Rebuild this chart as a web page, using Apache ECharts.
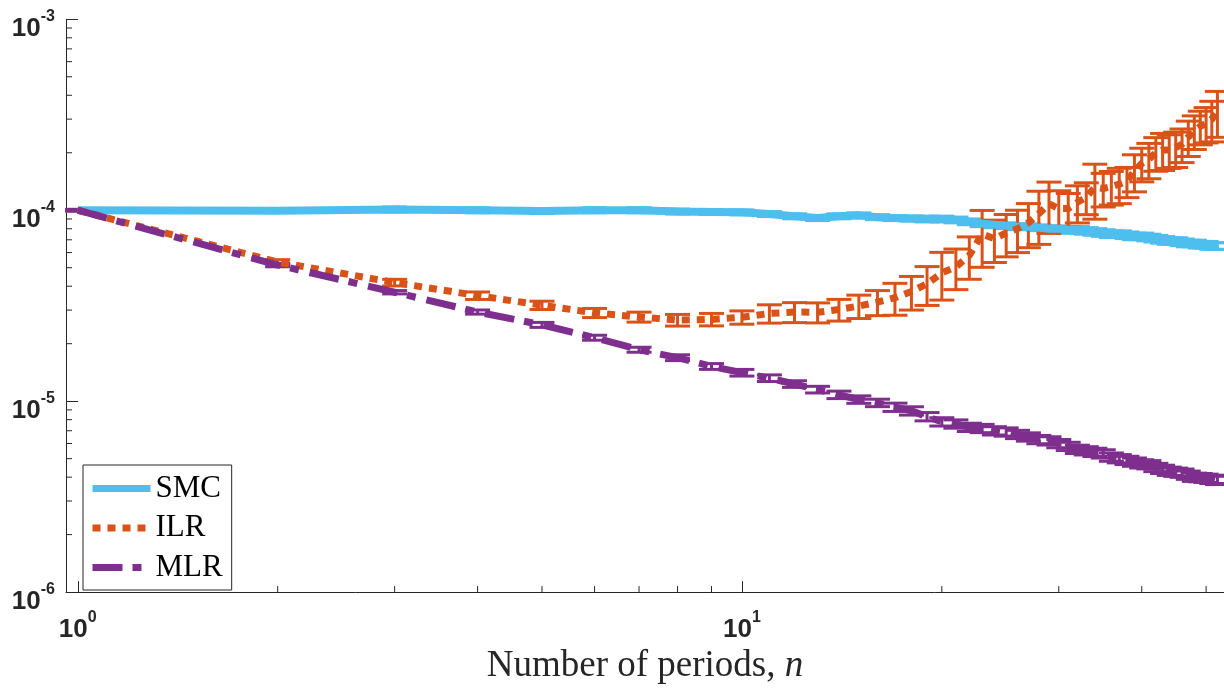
<!DOCTYPE html>
<html>
<head>
<meta charset="utf-8">
<script src="https://cdn.jsdelivr.net/npm/echarts@6/dist/echarts.min.js"></script>
<style>
html,body{margin:0;padding:0;background:#ffffff;}
#chart{width:1224px;height:690px;}
</style>
</head>
<body>
<div id="chart"></div>
<script>
// ---------------- data ----------------
const nValues = [1,2,3,4,5,6,7,8,9,10,11,12,13,14,15,16,17,18,19,20,21,22,23,24,25,26,27,28,29,30,31,32,33,34,35,36,37,38,39,40,41,42,43,44,45,46,47,48,49,50,51,52];

const smcValues = [1.00e-4,0.995e-4,1.01e-4,1.00e-4,0.99e-4,1.00e-4,1.00e-4,0.985e-4,0.98e-4,0.975e-4,
  0.955e-4,0.93e-4,0.91e-4,0.93e-4,0.94e-4,0.92e-4,0.91e-4,0.905e-4,0.90e-4,0.90e-4,
  0.89e-4,0.87e-4,0.85e-4,0.84e-4,0.83e-4,0.82e-4,0.82e-4,0.81e-4,0.80e-4,0.80e-4,
  0.79e-4,0.79e-4,0.78e-4,0.77e-4,0.76e-4,0.75e-4,0.75e-4,0.74e-4,0.73e-4,0.73e-4,
  0.72e-4,0.71e-4,0.70e-4,0.69e-4,0.69e-4,0.68e-4,0.67e-4,0.67e-4,0.66e-4,0.66e-4,
  0.65e-4,0.65e-4];
const smcRelErr = [0.01,0.02,0.03,0.03,0.03,0.03,0.03,0.03,0.03,0.03,
  0.03,0.03,0.03,0.03,0.03,0.03,0.03,0.03,0.035,0.035,
  0.035,0.035,0.035,0.035,0.035,0.035,0.035,0.035,0.035,0.035,
  0.04,0.04,0.04,0.04,0.04,0.04,0.04,0.04,0.04,0.04,
  0.04,0.04,0.04,0.04,0.04,0.04,0.04,0.04,0.04,0.04,
  0.04,0.04];

const ilrValues = [1.00e-4,5.35e-5,4.18e-5,3.57e-5,3.18e-5,2.90e-5,2.76e-5,2.66e-5,2.68e-5,2.75e-5,
  2.88e-5,2.93e-5,2.92e-5,3.02e-5,3.15e-5,3.30e-5,3.48e-5,3.75e-5,4.12e-5,4.70e-5,
  5.05e-5,5.80e-5,7.50e-5,7.10e-5,7.60e-5,8.00e-5,8.60e-5,9.60e-5,1.08e-4,1.02e-4,
  1.02e-4,1.10e-4,1.17e-4,1.32e-4,1.30e-4,1.33e-4,1.37e-4,1.42e-4,1.60e-4,1.76e-4,
  1.85e-4,2.00e-4,2.07e-4,2.07e-4,2.12e-4,2.22e-4,2.42e-4,2.60e-4,2.75e-4,2.85e-4,
  3.00e-4,3.30e-4];
const ilrRelErr = [0.01,0.03,0.04,0.045,0.05,0.055,0.06,0.07,0.075,0.08,
  0.11,0.12,0.12,0.13,0.14,0.15,0.19,0.20,0.23,0.28,
  0.24,0.25,0.33,0.25,0.25,0.25,0.26,0.31,0.30,0.24,
  0.20,0.22,0.19,0.32,0.20,0.20,0.21,0.18,0.22,0.20,
  0.21,0.20,0.22,0.20,0.21,0.20,0.21,0.20,0.20,0.21,
  0.24,0.27];

const mlrValues = [1.00e-4,5.16e-5,3.72e-5,2.93e-5,2.51e-5,2.15e-5,1.86e-5,1.69e-5,1.52e-5,1.41e-5,
  1.32e-5,1.23e-5,1.15e-5,1.08e-5,1.02e-5,9.8e-6,9.3e-6,8.9e-6,8.3e-6,7.8e-6,
  7.6e-6,7.3e-6,7.2e-6,7.0e-6,6.9e-6,6.7e-6,6.5e-6,6.3e-6,6.2e-6,6.0e-6,
  5.8e-6,5.6e-6,5.5e-6,5.4e-6,5.3e-6,5.1e-6,5.0e-6,4.9e-6,4.8e-6,4.7e-6,
  4.65e-6,4.5e-6,4.4e-6,4.3e-6,4.25e-6,4.2e-6,4.1e-6,4.0e-6,3.98e-6,3.95e-6,
  3.9e-6,3.85e-6];
const mlrRelErr = [0.01,0.02,0.02,0.025,0.03,0.03,0.03,0.035,0.035,0.04,
  0.04,0.04,0.04,0.045,0.045,0.045,0.05,0.05,0.05,0.05,
  0.05,0.05,0.05,0.05,0.05,0.05,0.05,0.05,0.05,0.05,
  0.05,0.05,0.05,0.05,0.05,0.05,0.05,0.05,0.05,0.05,
  0.05,0.05,0.05,0.05,0.05,0.05,0.05,0.05,0.05,0.05,
  0.05,0.05];

const seriesNames = ['SMC', 'ILR', 'MLR'];
const xMinorTickValues = [2,3,4,5,6,7,8,9,20,30,40,50];
const yMinorTickValues = [2e-6,3e-6,4e-6,5e-6,6e-6,7e-6,8e-6,9e-6,
  2e-5,3e-5,4e-5,5e-5,6e-5,7e-5,8e-5,9e-5,
  2e-4,3e-4,4e-4,5e-4,6e-4,7e-4,8e-4,9e-4];
const xLabel = 'Number of periods, ';
const xLabelVar = 'n';

// ---------------- styling ----------------
const X_MIN = 0.96, X_MAX = 53.2, Y_MIN = 1e-6, Y_MAX = 1e-3;
const AX = '#262626';
const COLORS = {SMC: '#4DBEEE', ILR: '#D95319', MLR: '#7E2F8E'};

function powLabel(v) {
  const l = Math.log10(v);
  const e = Math.round(l);
  if (Math.abs(l - e) > 1e-6) return '';
  return '{b|10}{s|' + e + '}';
}
const supRich = {
  b: {fontFamily: 'Liberation Sans', fontWeight: 'bold', fontSize: 26, color: AX, lineHeight: 34, verticalAlign: 'bottom'},
  s: {fontFamily: 'Liberation Sans', fontWeight: 'bold', fontSize: 16, color: AX, lineHeight: 18, verticalAlign: 'top'}
};

function errData(vals, rel) {
  return nValues.map((n, i) => [n, vals[i] * (1 - rel[i]), vals[i] * (1 + rel[i])]);
}
function errRender(color) {
  return function (params, api) {
    const x = api.value(0), lo = api.value(1), hi = api.value(2);
    const pHi = api.coord([x, hi]);
    const pLo = api.coord([x, lo]);
    const hw = 12.5;
    const st = () => ({stroke: color, lineWidth: 3, fill: null, lineCap: 'butt'});
    return {
      type: 'group',
      children: [
        {type: 'line', shape: {x1: pHi[0], y1: pHi[1], x2: pLo[0], y2: pLo[1]}, style: st()},
        {type: 'line', shape: {x1: pHi[0] - hw, y1: pHi[1], x2: pHi[0] + hw, y2: pHi[1]}, style: st()},
        {type: 'line', shape: {x1: pLo[0] - hw, y1: pLo[1], x2: pLo[0] + hw, y2: pLo[1]}, style: st()}
      ]
    };
  };
}
function lineSeries(name, vals, width, type) {
  return {
    name: name, type: 'line', symbol: 'none', showSymbol: false,
    data: nValues.map((n, i) => [n, vals[i]]),
    lineStyle: {color: COLORS[name], width: width, type: type, cap: 'butt'},
    itemStyle: {color: COLORS[name]},
    emphasis: {disabled: true}, z: 2
  };
}
function errSeries(name, vals, rel) {
  return {
    name: name + ' err', type: 'custom', renderItem: errRender(COLORS[name]),
    data: errData(vals, rel), encode: {x: 0, y: [1, 2]}, z: 2, silent: true
  };
}

const chart = echarts.init(document.getElementById('chart'), null, {renderer: 'canvas'});
const option = {
  animation: false,
  backgroundColor: '#ffffff',
  grid: {left: 66, right: 0, top: 19.3, bottom: 88, containLabel: false},
  legend: {
    data: seriesNames, orient: 'vertical', left: 83, top: 465,
    padding: [8, 9, 7, 6], itemWidth: 58, itemHeight: 14, itemGap: 8.5,
    backgroundColor: '#ffffff', borderColor: AX, borderWidth: 1, borderRadius: 0,
    selectedMode: false,
    itemStyle: {opacity: 0},
    lineStyle: {width: 7},
    textStyle: {fontFamily: 'Liberation Serif', fontSize: 31, color: '#000000', lineHeight: 30}
  },
  xAxis: {
    type: 'log', logBase: 10, min: X_MIN, max: X_MAX,
    axisLine: {show: true, onZero: false, lineStyle: {color: AX, width: 1}},
    axisTick: {show: true, inside: true, length: 11, lineStyle: {color: AX, width: 1}},
    axisLabel: {show: true, margin: 17, formatter: powLabel, rich: supRich, showMinLabel: false, showMaxLabel: false},
    splitLine: {show: false}, minorTick: {show: false}, minorSplitLine: {show: false},
    name: '{r|' + xLabel + '}{i|' + xLabelVar + '}',
    nameLocation: 'middle', nameGap: 45,
    nameTextStyle: {rich: {
      r: {fontFamily: 'Liberation Serif', fontSize: 37, color: AX},
      i: {fontFamily: 'Liberation Serif', fontSize: 37, fontStyle: 'italic', color: AX}
    }}
  },
  yAxis: {
    type: 'log', logBase: 10, min: Y_MIN, max: Y_MAX,
    axisLine: {show: true, onZero: false, lineStyle: {color: AX, width: 1}},
    axisTick: {show: true, inside: true, length: 12, lineStyle: {color: AX, width: 1}},
    axisLabel: {show: true, margin: 11, formatter: powLabel, padding: [12, 0, 0, 0],
      rich: supRich},
    splitLine: {show: false}, minorTick: {show: false}, minorSplitLine: {show: false}
  },
  series: [
    lineSeries('SMC', smcValues, 8, 'solid'),
    errSeries('SMC', smcValues, smcRelErr),
    lineSeries('ILR', ilrValues, 7, [8, 7]),
    errSeries('ILR', ilrValues, ilrRelErr),
    lineSeries('MLR', mlrValues, 7, [30, 10, 9, 11]),
    errSeries('MLR', mlrValues, mlrRelErr),
    {
      name: 'xMinor', type: 'custom', silent: true, z: 5,
      data: xMinorTickValues.map(v => [v, Y_MIN]),
      renderItem: function (params, api) {
        const p = api.coord([api.value(0), Y_MIN]);
        return {type: 'line', shape: {x1: p[0], y1: p[1], x2: p[0], y2: p[1] - 6}, style: {stroke: AX, lineWidth: 1}};
      }
    },
    {
      name: 'yMinor', type: 'custom', silent: true, z: 5,
      data: yMinorTickValues.map(v => [X_MIN, v]),
      renderItem: function (params, api) {
        const p = api.coord([X_MIN, api.value(1)]);
        return {type: 'line', shape: {x1: p[0], y1: p[1], x2: p[0] + 6, y2: p[1]}, style: {stroke: AX, lineWidth: 1}};
      }
    }
  ]
};
chart.setOption(option);
</script>
</body>
</html>
